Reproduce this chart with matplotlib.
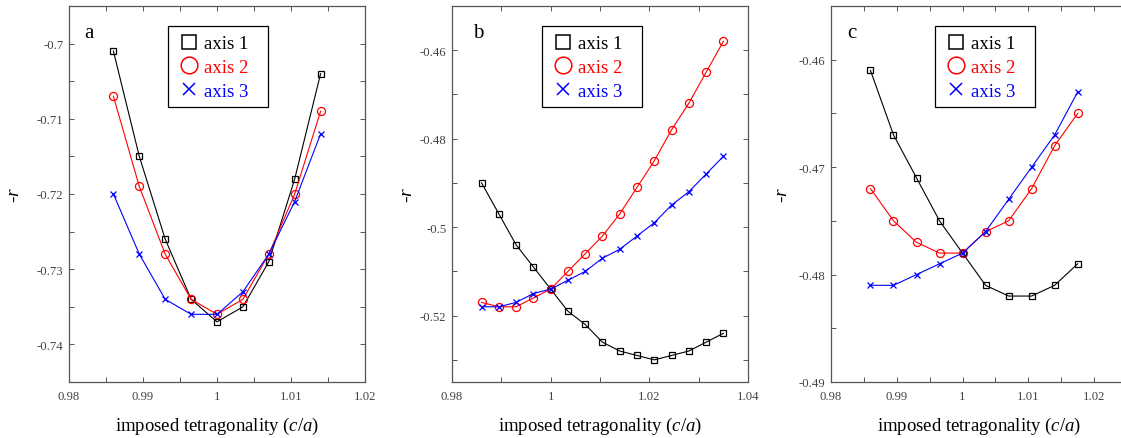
import numpy as np
import matplotlib
matplotlib.use("Agg")
import matplotlib.pyplot as plt
from matplotlib.lines import Line2D
from matplotlib.patches import Rectangle
from matplotlib.ticker import MultipleLocator, FuncFormatter

plt.rcParams['font.family'] = ['Liberation Serif', 'DejaVu Serif']
plt.rcParams['mathtext.fontset'] = 'custom'
plt.rcParams['mathtext.rm'] = 'Liberation Serif'
plt.rcParams['mathtext.it'] = 'Liberation Serif:italic'

# ---------------- data ----------------
x_a = [0.986, 0.9895, 0.993, 0.9965, 1.0, 1.0035, 1.007, 1.0105, 1.014]
a_axis1 = [-0.701, -0.715, -0.726, -0.734, -0.737, -0.735, -0.729, -0.718, -0.704]
a_axis2 = [-0.707, -0.719, -0.728, -0.734, -0.736, -0.734, -0.728, -0.720, -0.709]
a_axis3 = [-0.720, -0.728, -0.734, -0.736, -0.736, -0.733, -0.728, -0.721, -0.712]

x_b = [0.986, 0.9895, 0.993, 0.9965, 1.0, 1.0035, 1.007, 1.0105, 1.014,
       1.0175, 1.021, 1.0245, 1.028, 1.0315, 1.035]
b_axis1 = [-0.490, -0.497, -0.504, -0.509, -0.514, -0.519, -0.522, -0.526,
           -0.528, -0.529, -0.530, -0.529, -0.528, -0.526, -0.524]
b_axis2 = [-0.517, -0.518, -0.518, -0.516, -0.514, -0.510, -0.506, -0.502,
           -0.497, -0.491, -0.485, -0.478, -0.472, -0.465, -0.458]
b_axis3 = [-0.518, -0.518, -0.517, -0.515, -0.514, -0.512, -0.510, -0.507,
           -0.505, -0.502, -0.499, -0.495, -0.492, -0.488, -0.484]

x_c = [0.986, 0.9895, 0.993, 0.9965, 1.0, 1.0035, 1.007, 1.0105, 1.014, 1.0175]
c_axis1 = [-0.461, -0.467, -0.471, -0.475, -0.478, -0.481, -0.482, -0.482, -0.481, -0.479]
c_axis2 = [-0.472, -0.475, -0.477, -0.478, -0.478, -0.476, -0.475, -0.472, -0.468, -0.465]
c_axis3 = [-0.481, -0.481, -0.480, -0.479, -0.478, -0.476, -0.473, -0.470, -0.467, -0.463]

series_labels = ['axis 1', 'axis 2', 'axis 3']
panel_labels = ['a', 'b', 'c']
xlabel_text = 'imposed tetragonality ($\\mathit{c/a}$)'
ylabel_text = '-$\\mathit{r}$'

# ---------------- figure ----------------
W, H = 1121, 439
fig = plt.figure(figsize=(W / 100, H / 100), dpi=100)

ax_w = 296
top_px, bot_px = 7, 383
ax_h = bot_px - top_px
lefts = [69, 452, 831]
leg_left_px = [168, 542, 935]
leg_w_px, leg_top_px, leg_bot_px = 100, 27, 108

panels = [
    dict(x=x_a, ys=[a_axis1, a_axis2, a_axis3], xlim=(0.98, 1.02), ylim=(-0.745, -0.695),
         xmaj=0.01, xmin=0.005, ymaj=0.01, ymin=0.005, lab_x=0.068, ylab_off=46),
    dict(x=x_b, ys=[b_axis1, b_axis2, b_axis3], xlim=(0.98, 1.04), ylim=(-0.535, -0.45),
         xmaj=0.02, xmin=0.01, ymaj=0.02, ymin=0.01, lab_x=0.088, ylab_off=36),
    dict(x=x_c, ys=[c_axis1, c_axis2, c_axis3], xlim=(0.98, 1.025), ylim=(-0.49, -0.455),
         xmaj=0.01, xmin=0.005, ymaj=0.01, ymin=0.005, lab_x=0.071, ylab_off=40),
]

colors = ['k', 'r', 'b']
markers = ['s', 'o', 'x']
msizes = [3.7, 5.8, 4.0]
spine_col = '#555555'
tick_col = '#444444'


def fmt(v, pos):
    return '%g' % round(v, 4)


for i, p in enumerate(panels):
    ax = fig.add_axes([lefts[i] / W, 1 - bot_px / H, ax_w / W, ax_h / H])
    for ys, c, m, ms in zip(p['ys'], colors, markers, msizes):
        ax.plot(p['x'], ys, color=c, lw=0.8, marker=m, ms=ms, mfc='none', mec=c, mew=0.9)
    ax.set_xlim(*p['xlim'])
    ax.set_ylim(*p['ylim'])
    ax.xaxis.set_major_locator(MultipleLocator(p['xmaj']))
    ax.xaxis.set_minor_locator(MultipleLocator(p['xmin']))
    ax.yaxis.set_major_locator(MultipleLocator(p['ymaj']))
    ax.yaxis.set_minor_locator(MultipleLocator(p['ymin']))
    ax.xaxis.set_major_formatter(FuncFormatter(fmt))
    ax.yaxis.set_major_formatter(FuncFormatter(fmt))
    ax.tick_params(which='both', direction='in', top=True, right=True, length=3.5,
                   width=0.7, color=spine_col, labelsize=9.2, labelcolor=tick_col)
    ax.tick_params(axis='x', which='major', pad=6)
    ax.tick_params(axis='y', which='major', pad=4)
    for sp in ax.spines.values():
        sp.set_color(spine_col)
        sp.set_linewidth(0.9)
    ax.set_xlabel(xlabel_text, fontsize=13.5, labelpad=9)
    ax.set_ylabel(ylabel_text, fontsize=14)
    ax.yaxis.set_label_coords(-p['ylab_off'] / ax_w, 0.5)
    ax.text(p['lab_x'], 0.93, panel_labels[i], transform=ax.transAxes, fontsize=15,
            ha='center', va='center')

    # legend frame box
    bx0 = (leg_left_px[i] - lefts[i]) / ax_w
    by1 = 1 - (leg_top_px - top_px) / ax_h
    by0 = 1 - (leg_bot_px - top_px) / ax_h
    ax.add_patch(Rectangle((bx0, by0), leg_w_px / ax_w, by1 - by0, transform=ax.transAxes,
                           fill=True, facecolor='white', edgecolor='k', lw=0.9, zorder=4))
    handles = [Line2D([], [], ls='none', marker=m, color=c, mfc='none', mec=c, ms=s, mew=1.1)
               for c, m, s in zip(colors, markers, [10, 12, 8.5])]
    leg = ax.legend(handles, series_labels, loc='upper left',
                    bbox_to_anchor=(bx0 + 12 / ax_w, by1 - 9 / ax_h), fontsize=13.5,
                    frameon=False, handlelength=0.96, handletextpad=0.32, borderpad=0,
                    labelspacing=0.36, borderaxespad=0)
    leg.set_zorder(5)
    for t, c in zip(leg.get_texts(), colors):
        t.set_color(c)

fig.savefig('out.png', dpi=100)
